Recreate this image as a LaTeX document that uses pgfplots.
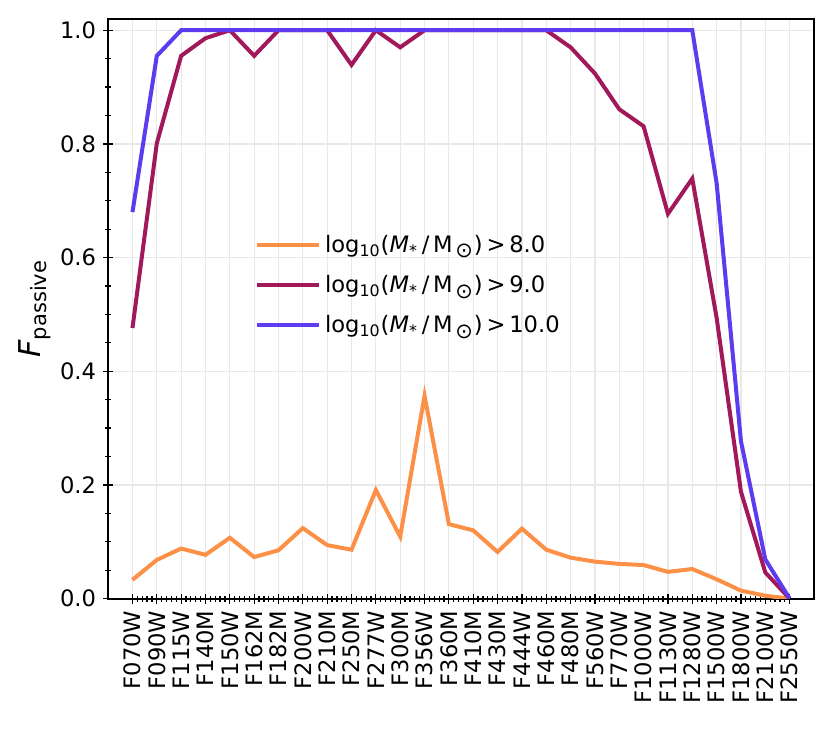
\documentclass[border=0pt]{standalone}
\usepackage{fontspec}
\setmainfont{DejaVu Sans}
\usepackage{pgfplots}
\pgfplotsset{compat=1.18}
\usepackage{pgfplotstable}
\definecolor{corange}{HTML}{FD9047}
\definecolor{cpurple}{HTML}{A1195B}
\definecolor{cblue}{HTML}{5D3BEF}
\pgfplotstableread{
x y
0 0.033
1 0.068
2 0.088
3 0.077
4 0.107
5 0.073
6 0.085
7 0.124
8 0.094
9 0.086
10 0.191
11 0.109
12 0.357
13 0.131
14 0.120
15 0.082
16 0.123
17 0.086
18 0.072
19 0.065
20 0.061
21 0.059
22 0.047
23 0.052
24 0.034
25 0.014
26 0.005
27 0.0
}\tabA
\pgfplotstableread{
x y
0 0.476
1 0.801
2 0.955
3 0.986
4 1.0
5 0.955
6 1.0
7 1.0
8 1.0
9 0.939
10 1.0
11 0.970
12 1.0
13 1.0
14 1.0
15 1.0
16 1.0
17 1.0
18 0.970
19 0.924
20 0.861
21 0.831
22 0.677
23 0.739
24 0.494
25 0.188
26 0.046
27 0.0
}\tabB
\pgfplotstableread{
x y
0 0.680
1 0.955
2 1.0
3 1.0
4 1.0
5 1.0
6 1.0
7 1.0
8 1.0
9 1.0
10 1.0
11 1.0
12 1.0
13 1.0
14 1.0
15 1.0
16 1.0
17 1.0
18 1.0
19 1.0
20 1.0
21 1.0
22 1.0
23 1.0
24 0.731
25 0.277
26 0.069
27 0.0
}\tabC
\newcommand{\leg}[1]{log\textsubscript{10}(\textit{M}\textsubscript{*}\,/\,M\textsubscript{\,\fontsize{10.5}{11}\selectfont ⊙})\,>\,#1}
\begin{document}
\begin{tikzpicture}
\begin{axis}[
  scale only axis,
  width=352.5pt, height=289.5pt,
  xmin=-1, xmax=28, ymin=0, ymax=1.02,
  xtick={0,...,27},
  xticklabels={F070W,F090W,F115W,F140M,F150W,F162M,F182M,F200W,F210M,F250M,F277W,F300M,F356W,F360M,F410M,F430M,F444W,F460M,F480M,F560W,F770W,F1000W,F1130W,F1280W,F1500W,F1800W,F2100W,F2550W},
  x tick label style={rotate=90, anchor=east, font=\fontsize{11.3}{13}\selectfont},
  ytick={0,0.2,0.4,0.6,0.8,1.0},
  y tick label style={font=\fontsize{11.3}{13}\selectfont},
  yticklabel style={/pgf/number format/.cd, fixed, fixed zerofill, precision=1, assume math mode=true},
  minor x tick num=4,
  minor y tick num=3,
  xtick pos=bottom, ytick pos=left,
  tick align=center,
  major tick length=5pt, minor tick length=3pt,
  every tick/.style={black, line width=0.6pt},
  axis line style={line width=1pt},
  grid=major,
  major grid style={gray!18, line width=0.6pt},
  ylabel={\fontsize{15}{18}\selectfont\textit{F}\textsubscript{passive}},
  ylabel style={at={(rel axis cs:0,0.5)}, anchor=south, yshift=25pt},
  legend style={draw=none, fill=none, at={(0.199,0.642)}, anchor=north west,
    font=\fontsize{11.3}{13}\selectfont, row sep=6pt, cells={anchor=west}},
  legend image code/.code={\draw[#1] (0pt,0pt) -- (31pt,0pt);},
]
\addplot[corange, line width=2pt] table[x=x,y=y] {\tabA};
\addlegendentry{\leg{8.0}}
\addplot[cpurple, line width=2pt] table[x=x,y=y] {\tabB};
\addlegendentry{\leg{9.0}}
\addplot[cblue, line width=2pt] table[x=x,y=y] {\tabC};
\addlegendentry{\leg{10.0}}
\end{axis}
\path ([shift={(-6pt,-11pt)}]current bounding box.south west) rectangle ([shift={(7pt,7.5pt)}]current bounding box.north east);
\end{tikzpicture}
\end{document}
